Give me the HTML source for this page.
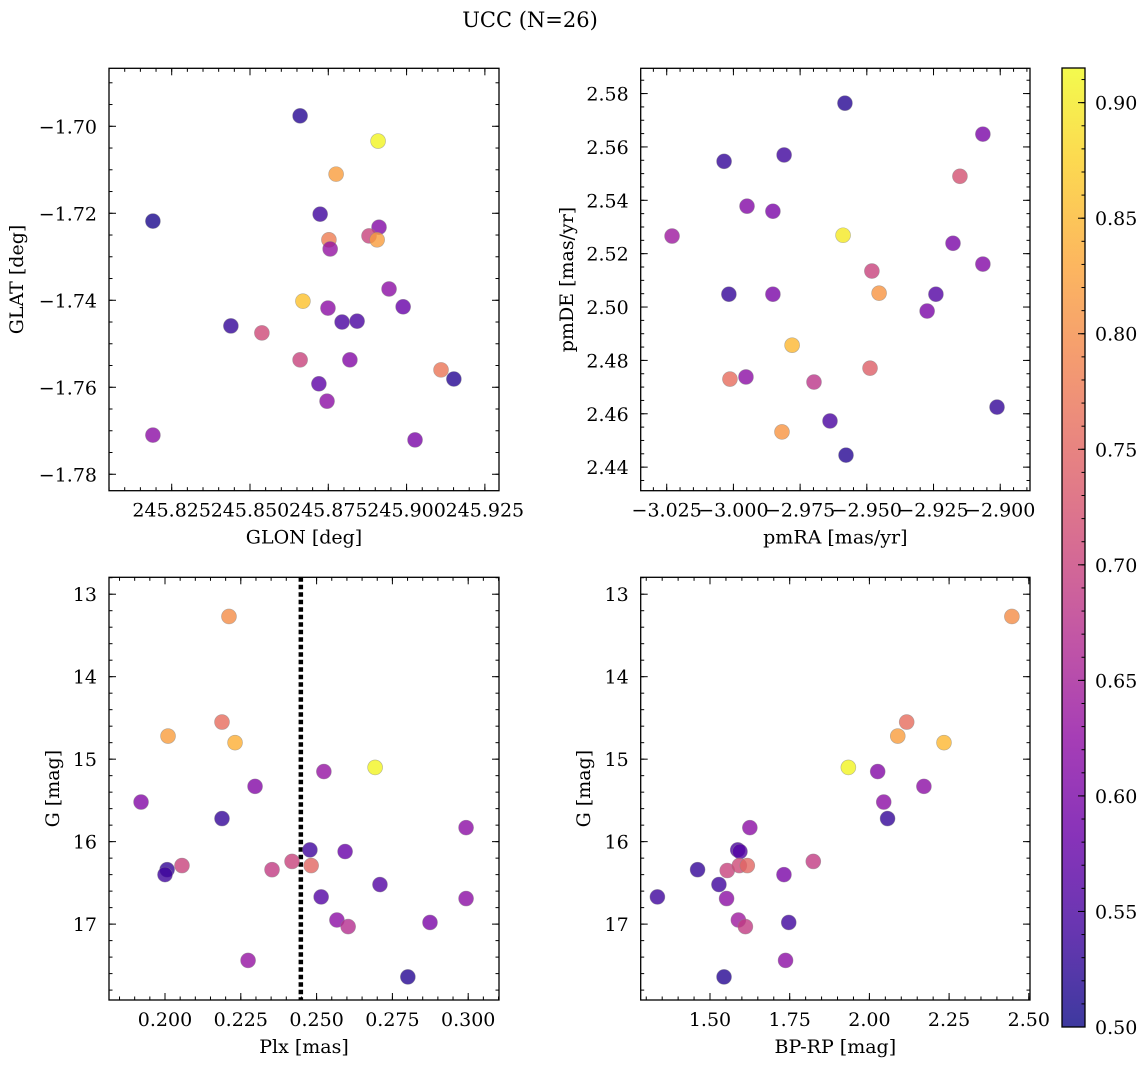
<!DOCTYPE html>
<html><head><meta charset="utf-8">
<style>
html,body{margin:0;padding:0;background:#fff;}
svg{display:block;font-family:"DejaVu Serif","Liberation Serif",serif;}
</style></head>
<body>
<svg id="fig" width="1148" height="1067" viewBox="0 0 1148 1067" xmlns="http://www.w3.org/2000/svg">
<defs>
<linearGradient id="cbgrad" x1="0" y1="1" x2="0" y2="0"></linearGradient>
</defs>
<text x="530" y="27" font-size="21" text-anchor="middle">UCC (N=26)</text>
</svg>
<script>
// ---------- data ----------
const tlGlon = [245.8190,245.8660,245.8909,245.8775,245.8724,245.8912,245.8752,245.8880,245.8906,245.8756,245.8944,245.8669,245.8749,245.8439,245.8794,245.8842,245.8989,245.8538,245.8660,245.8819,245.8720,245.9110,245.9151,245.8746,245.8190,245.9027];
const tlGlat = [-1.7218,-1.6976,-1.7034,-1.7110,-1.7202,-1.7232,-1.7261,-1.7252,-1.7261,-1.7282,-1.7374,-1.7402,-1.7418,-1.7459,-1.7450,-1.7448,-1.7415,-1.7475,-1.7537,-1.7537,-1.7592,-1.7560,-1.7581,-1.7632,-1.7710,-1.7721];
const tlColor = [0.51,0.52,0.91,0.82,0.54,0.61,0.78,0.70,0.82,0.63,0.62,0.86,0.62,0.53,0.55,0.55,0.58,0.71,0.70,0.61,0.57,0.77,0.52,0.62,0.62,0.60];

const trPmra = [-2.9582,-2.9065,-3.0035,-2.9810,-2.9151,-3.0230,-2.9949,-2.9852,-2.9589,-2.9177,-2.9065,-2.9481,-2.9454,-3.0017,-2.9852,-2.9241,-2.9274,-2.9780,-3.0013,-2.9953,-2.9698,-2.9488,-2.9818,-2.9638,-2.9012,-2.9578];
const trPmde = [2.5764,2.5648,2.5546,2.5570,2.5490,2.5266,2.5378,2.5359,2.5269,2.5239,2.5161,2.5135,2.5052,2.5048,2.5048,2.5048,2.4985,2.4857,2.4730,2.4738,2.4719,2.4771,2.4532,2.4573,2.4625,2.4445];
const trColor = [0.52,0.60,0.53,0.54,0.72,0.64,0.61,0.60,0.90,0.60,0.61,0.70,0.81,0.53,0.60,0.56,0.60,0.85,0.76,0.62,0.68,0.74,0.81,0.55,0.53,0.52];

const blPlx = [0.2211,0.2188,0.2010,0.2231,0.2693,0.1921,0.2524,0.2297,0.2188,0.2993,0.2478,0.2594,0.2007,0.2056,0.2000,0.2419,0.2482,0.2353,0.2709,0.2515,0.2993,0.2567,0.2874,0.2604,0.2274,0.2801];
const blG = [13.27,14.55,14.72,14.80,15.10,15.52,15.15,15.33,15.72,15.83,16.10,16.12,16.34,16.29,16.40,16.24,16.29,16.34,16.52,16.67,16.69,16.95,16.98,17.03,17.44,17.64];
const blColor = [0.80,0.76,0.82,0.84,0.91,0.61,0.63,0.61,0.53,0.62,0.54,0.58,0.53,0.70,0.54,0.70,0.75,0.69,0.56,0.56,0.62,0.62,0.60,0.67,0.63,0.52];
const plxLine = [0.2448];

const brBprp = [2.447,2.117,2.089,2.234,1.934,2.026,2.171,2.045,2.057,1.625,1.587,1.594,1.824,1.461,1.554,1.592,1.617,1.732,1.528,1.335,1.552,1.589,1.611,1.747,1.737,1.544];
const brG = [13.27,14.55,14.72,14.80,15.10,15.15,15.33,15.52,15.72,15.83,16.10,16.12,16.24,16.34,16.35,16.29,16.29,16.40,16.52,16.67,16.69,16.95,17.03,16.98,17.44,17.64];
const brColor = [0.80,0.76,0.82,0.85,0.91,0.61,0.62,0.62,0.53,0.62,0.55,0.56,0.69,0.53,0.70,0.71,0.75,0.60,0.54,0.54,0.62,0.64,0.69,0.54,0.62,0.52];

const cbTicks = [0.50,0.55,0.60,0.65,0.70,0.75,0.80,0.85,0.90];

// ---------- helpers ----------
const NS = "http://www.w3.org/2000/svg";
const svg = document.getElementById('fig');
function mk(tag, attrs, parent){ const e=document.createElementNS(NS,tag); for(const k in attrs) e.setAttribute(k,attrs[k]); (parent||svg).appendChild(e); return e; }
const plasmaStops=[[13,8,135],[65,4,157],[106,0,168],[143,13,164],[177,42,144],[204,71,120],[225,100,98],[242,132,75],[252,166,54],[252,206,37],[240,249,33]];
const VMIN=0.50, VMAX=0.915;
function plasma(t){ t=Math.max(0,Math.min(1,t)); const p=t*10; const i=Math.min(9,Math.floor(p)); const f=p-i; const a=plasmaStops[i], b=plasmaStops[i+1];
  return 'rgb('+[0,1,2].map(k=>Math.round(a[k]+(b[k]-a[k])*f)).join(',')+')'; }
function cmap(v){ return plasma((v-VMIN)/(VMAX-VMIN)); }
function lin(d0,d1,r0,r1){ return v=> r0+(v-d0)/(d1-d0)*(r1-r0); }
function fmt(v,dec){ const s=v.toFixed(dec); return s.replace('-','\u2212'); }
const TF=19;

function panel(opt){
  const g=mk('g',{});
  
  
  const {x0,x1,y0,y1}=opt;
  const sx=lin(opt.xd[0],opt.xd[1],x0,x1), sy=lin(opt.yd[0],opt.yd[1],y1,y0);
  const eps=1e-9;
  function ticksAlong(dmin,dmax,step){ const out=[]; let s=Math.ceil((Math.min(dmin,dmax)-eps)/step); for(let v=s*step; v<=Math.max(dmin,dmax)+eps; v=(++s)*step) out.push(v); return out; }
  const tg=mk('g',{stroke:'#000','stroke-width':1},g);
  
  
  ticksAlong(opt.xd[0],opt.xd[1],opt.xminor).forEach(v=>{const x=sx(v); mk('line',{x1:x,x2:x,y1:y1,y2:y1-3.5},tg); mk('line',{x1:x,x2:x,y1:y0,y2:y0+3.5},tg);});
  ticksAlong(opt.yd[0],opt.yd[1],opt.yminor).forEach(v=>{const y=sy(v); mk('line',{x1:x0,x2:x0+3.5,y1:y,y2:y},tg); mk('line',{x1:x1,x2:x1-3.5,y1:y,y2:y},tg);});
  ticksAlong(opt.xd[0],opt.xd[1],opt.xmajor).forEach(v=>{const x=sx(v); mk('line',{x1:x,x2:x,y1:y1,y2:y1-7},tg); mk('line',{x1:x,x2:x,y1:y0,y2:y0+7},tg);
    const t=mk('text',{x:x,y:y1+26,'font-size':TF,'text-anchor':'middle'},g); t.textContent=fmt(v,opt.xdec);
    
    });
  ticksAlong(opt.yd[0],opt.yd[1],opt.ymajor).forEach(v=>{const y=sy(v); mk('line',{x1:x0,x2:x0+7,y1:y,y2:y},tg); mk('line',{x1:x1,x2:x1-7,y1:y,y2:y},tg);
    const t=mk('text',{x:x0-12,y:y+7,'font-size':TF,'text-anchor':'end'},g); t.textContent=fmt(v,opt.ydec);
    
    });
  if(opt.vline){ opt.vline.forEach(v=>{ const l=mk('line',{x1:sx(v),x2:sx(v),y1:y0,y2:y1,stroke:'#000','stroke-width':4.5,'stroke-dasharray':'4.5 3'},g);
    
     }); }
  for(let i=0;i<opt.xs.length;i++){
    const c=mk('circle',{cx:sx(opt.xs[i]),cy:sy(opt.ys[i]),r:7.5,fill:cmap(opt.cs[i]),'fill-opacity':0.8,stroke:'#888','stroke-opacity':0.6,'stroke-width':0.6},g);
    
    
  }
  const f=mk('rect',{x:x0,y:y0,width:x1-x0,height:y1-y0,fill:'none',stroke:'#000','stroke-width':1.3},g);
  
  
  const xl=mk('text',{x:(x0+x1)/2,y:y1+53,'font-size':19,'text-anchor':'middle'},g); xl.textContent=opt.xlabel;
  
  
  const yl=mk('text',{x:0,y:0,'font-size':19,'text-anchor':'middle',transform:'translate('+opt.ylx+','+((y0+y1)/2)+') rotate(-90)'},g); yl.textContent=opt.ylabel;
  
  
}

panel({name:'glon-glat-panel',x0:109,x1:499,y0:68.3,y1:490.7,xd:[245.80498,245.92951],yd:[-1.78378,-1.68667],
  xmajor:0.025,xminor:0.005,ymajor:0.02,yminor:0.005,xdec:3,ydec:2,xs:tlGlon,ys:tlGlat,cs:tlColor,xlabel:'GLON [deg]',ylabel:'GLAT [deg]',ylx:23});
panel({name:'pm-panel',x0:640.7,x1:1030,y0:68.3,y1:490.7,xd:[-3.03475,-2.88884],yd:[2.43117,2.58947],
  xmajor:0.025,xminor:0.005,ymajor:0.02,yminor:0.005,xdec:3,ydec:2,xs:trPmra,ys:trPmde,cs:trColor,xlabel:'pmRA [mas/yr]',ylabel:'pmDE [mas/yr]',ylx:573});
panel({name:'plx-g-panel',x0:109,x1:499,y0:577.3,y1:1000,xd:[0.18153,0.31016],yd:[17.92,12.795],
  xmajor:0.025,xminor:0.005,ymajor:1,yminor:0.2,xdec:3,ydec:0,xs:blPlx,ys:blG,cs:blColor,xlabel:'Plx [mas]',ylabel:'G [mag]',ylx:59,vline:plxLine});
panel({name:'cmd-panel',x0:640.7,x1:1030,y0:577.3,y1:1000,xd:[1.2826,2.5038],yd:[17.92,12.795],
  xmajor:0.25,xminor:0.05,ymajor:1,yminor:0.2,xdec:2,ydec:0,xs:brBprp,ys:brG,cs:brColor,xlabel:'BP-RP [mag]',ylabel:'G [mag]',ylx:590});

// colorbar
const grad=document.getElementById('cbgrad');
for(let i=0;i<=20;i++){ mk('stop',{offset:(i/20),'stop-color':plasma(i/20)},grad); }
const cbX0=1062,cbX1=1085,cbY0=68,cbY1=1027;
const cby=lin(VMIN,VMAX,cbY1,cbY0);
const cb=mk('g',{});  
mk('rect',{x:cbX0,y:cbY0,width:cbX1-cbX0,height:cbY1-cbY0,fill:'url(#cbgrad)','fill-opacity':0.8},cb);
for(let v=0.50; v<=VMAX+1e-9; v=Math.round((v+0.01)*100)/100){ const y=cby(v); mk('line',{x1:cbX1,x2:cbX1-3.5,y1:y,y2:y,stroke:'#000','stroke-width':1},cb); }
cbTicks.forEach(v=>{ const y=cby(v); mk('line',{x1:cbX1,x2:cbX1-7,y1:y,y2:y,stroke:'#000','stroke-width':1},cb);
  const t=mk('text',{x:cbX1+10,y:y+7,'font-size':TF},cb); t.textContent=v.toFixed(2);
  
   });
mk('rect',{x:cbX0,y:cbY0,width:cbX1-cbX0,height:cbY1-cbY0,fill:'none',stroke:'#000','stroke-width':1.3},cb);
</script>
</body></html>
